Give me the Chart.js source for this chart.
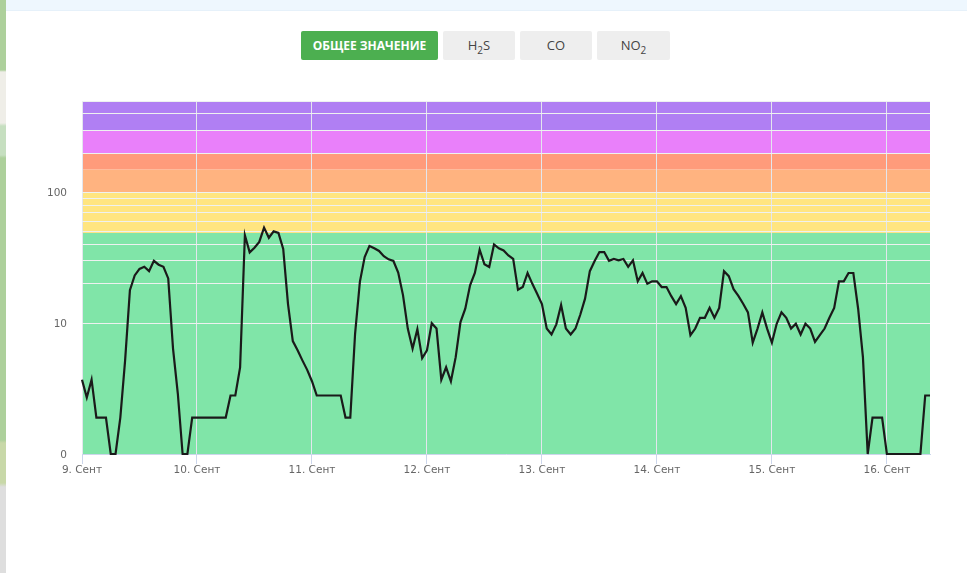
<!DOCTYPE html>
<html>
<head>
<meta charset="utf-8">
<script src="https://cdn.jsdelivr.net/npm/chart.js@4"></script>
<style>
html, body { margin: 0; padding: 0; background: #fff; overflow: hidden; }
body { width: 967px; height: 573px; position: relative; font-family: "Open Sans", sans-serif; }
#topbar { position: absolute; left: 5px; top: 0; width: 962px; height: 10px; background: #eef7fe; border-bottom: 1px solid #e6f1fa; }
#map { position: absolute; left: 0; top: 0; width: 6px; height: 573px;
  background: linear-gradient(#add09b 0, #add09b 70px, #efeee8 72px, #efeee8 123px, #c6dfc0 126px, #c6dfc0 155px, #add09b 158px, #add09b 440px, #c8d8a8 443px, #c8d8a8 483px, #dedede 487px, #dedede 573px); }
#chart { position: absolute; left: 0; top: 0; }
.btn { position: absolute; top: 31px; height: 29px; line-height: 29px; text-align: center; font-size: 13px; color: #444; background: #eeeeee; border-radius: 2px; }
.btn.on { background: #4caf50; color: #fff; font-weight: 700; font-size: 12px; }
.btn sub { font-size: 10px; line-height: 0; }
</style>
</head>
<body>
<div id="topbar"></div>
<div id="map"></div>
<div class="btn on" style="left:301px;width:137px">ОБЩЕЕ ЗНАЧЕНИЕ</div>
<div class="btn" style="left:443px;width:72px">H<sub>2</sub>S</div>
<div class="btn" style="left:520px;width:72px">CO</div>
<div class="btn" style="left:597px;width:73px">NO<sub>2</sub></div>
<canvas id="chart" width="967" height="573"></canvas>
<script>
// hourly values, one per hour starting 9 Сент 00:00
const values = [
  3.7, 2.7, 3.7, 1.9, 1.9, 1.9, 1, 1, 1.9, 5.2, 17.9, 23.2, 26, 27, 25, 30, 28, 27, 22, 6.4, 2.9, 1, 1, 1.9,
  1.9, 1.9, 1.9, 1.9, 1.9, 1.9, 1.9, 2.8, 2.8, 4.6, 47, 34.8, 37.8, 41.8, 53.8, 45, 50.4, 49, 37, 14, 7.3, 6.2, 5.2, 4.4,
  3.6, 2.8, 2.8, 2.8, 2.8, 2.8, 2.8, 1.9, 1.9, 8.3, 20.7, 32, 39, 37.4, 35.7, 32.5, 30.8, 29.9, 24.4, 16.4, 9.1, 6.4, 9, 5.4,
  6.2, 10, 9.1, 3.7, 4.6, 3.6, 5.5, 10.2, 12.9, 19.5, 24.2, 36.5, 28.2, 26.9, 40, 37.4, 36, 33, 31, 18, 18.9, 24.2, 20, 16.8,
  14, 9.1, 8.2, 9.8, 13.8, 9.1, 8.2, 9.1, 11.6, 15.4, 25, 29.9, 35, 35, 30, 31, 30.3, 31, 27, 30.3, 20.9, 24.2, 20, 20.9,
  20.9, 18.9, 18.9, 16.1, 14, 16.1, 13.1, 8.1, 9.1, 11, 11, 13.1, 11, 13.1, 25, 22.9, 18.2, 16.2, 14.1, 12.1, 7.1, 9.1, 12.1, 9.1,
  7.1, 9.9, 12.1, 11, 9.1, 9.9, 8.2, 9.9, 9.1, 7.2, 8.1, 9.1, 11, 13.1, 20.9, 20.9, 24.2, 24.2, 12.9, 5.5, 1, 1.9, 1.9, 1.9,
  1, 1, 1, 1, 1, 1, 1, 1, 2.8, 2.8
];
const dayLabels = ["9. Сент", "10. Сент", "11. Сент", "12. Сент", "13. Сент", "14. Сент", "15. Сент", "16. Сент"];
const yLabels = { 1: "0", 10: "10", 100: "100" };
const yGrid = [1, 10, 20, 30, 40, 50, 60, 70, 80, 90, 100, 200, 300, 400, 500];
const bandEdges = [1, 49, 100, 150, 200, 300, 500];
const bandColors = ["#80e5a8", "#ffe580", "#ffb380", "#ff9b7b", "#e980fa", "#b07ff3"];

// coloured quality zones behind the grid
const bands = {
  id: "bands",
  beforeDraw(chart) {
    const { ctx, chartArea, scales } = chart;
    bandColors.forEach((color, i) => {
      const top = scales.y.getPixelForValue(bandEdges[i + 1]);
      const bottom = scales.y.getPixelForValue(bandEdges[i]);
      ctx.fillStyle = color;
      ctx.fillRect(chartArea.left, top, chartArea.right - chartArea.left, bottom - top);
    });
  }
};

new Chart(document.getElementById("chart"), {
  type: "line",
  data: {
    datasets: [{
      data: values.map((v, i) => ({ x: i, y: v })),
      borderColor: "#1a1a1a",
      borderWidth: 2.2,
      pointRadius: 0,
      tension: 0,
      clip: false
    }]
  },
  plugins: [bands],
  options: {
    responsive: false,
    animation: false,
    layout: { padding: { top: 101, right: 37, bottom: 89 } },
    plugins: { legend: { display: false }, tooltip: { enabled: false } },
    scales: {
      x: {
        type: "linear",
        min: 0,
        max: 177,
        afterBuildTicks(axis) { axis.ticks = dayLabels.map((d, i) => ({ value: i * 24 })); },
        afterFit(axis) { axis.height = 30; },
        grid: { color: "#e3e6ee", lineWidth: 1, tickLength: 10, tickColor: "#ccd6eb", drawTicks: true },
        border: { color: "#ccd6eb" },
        ticks: {
          color: "#666",
          font: { family: "DejaVu Sans", size: 10.5 },
          padding: 0,
          maxRotation: 0,
          autoSkip: false,
          callback: (v) => dayLabels[v / 24]
        }
      },
      y: {
        type: "logarithmic",
        min: 1,
        max: 500,
        afterBuildTicks(axis) { axis.ticks = yGrid.map((v) => ({ value: v })); },
        afterFit(axis) { axis.width = 82; },
        grid: { color: "#eef1f0", lineWidth: 1, drawTicks: false },
        border: { display: false },
        ticks: {
          color: "#666",
          font: { family: "DejaVu Sans", size: 10.5 },
          padding: 15,
          labelOffset: 1,
          autoSkip: false,
          callback: (v) => yLabels[v] || ""
        }
      }
    }
  }
});
</script>
</body>
</html>
